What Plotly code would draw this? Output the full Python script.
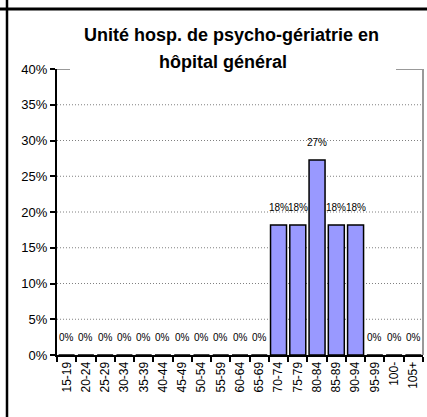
import plotly.graph_objects as go

categories = ["15-19", "20-24", "25-29", "30-34", "35-39", "40-44", "45-49", "50-54",
              "55-59", "60-64", "65-69", "70-74", "75-79", "80-84", "85-89", "90-94",
              "95-99", "100-", "105+"]
values = [0, 0, 0, 0, 0, 0, 0, 0, 0, 0, 0, 2/11, 2/11, 3/11, 2/11, 2/11, 0, 0, 0]
y_ticks = [0, 0.05, 0.10, 0.15, 0.20, 0.25, 0.30, 0.35, 0.40]
title_lines = ["Unité hosp. de psycho-gériatrie en", "hôpital général"]

W, H = 427, 417
L, R, T, B = 57, 4, 69, 62
pw, ph = W - L - R, H - T - B

def px(x):
    return (x - L) / pw

def py(y):
    return (H - B - y) / ph

fig = go.Figure()
fig.add_trace(go.Bar(
    x=categories, y=values,
    marker=dict(color="#9999FF", line=dict(color="black", width=1.5)),
    hoverinfo="skip",
))

annotations = []
for c, v in zip(categories, values):
    annotations.append(dict(
        x=c, y=v, xref="x", yref="y", text=f"{round(v*100)}%",
        showarrow=False, yanchor="middle", yshift=17.5,
        font=dict(family="Arial, Liberation Sans", size=10, color="black"),
    ))

annotations.append(dict(x=px(231), y=py(35), xref="paper", yref="paper",
                        text=f"<b>{title_lines[0]}</b>", showarrow=False,
                        xanchor="center", yanchor="middle",
                        font=dict(family="Arial, Liberation Sans", size=18, color="black")))
annotations.append(dict(x=px(223), y=py(62), xref="paper", yref="paper",
                        text=f"<b>{title_lines[1]}</b>", showarrow=False,
                        xanchor="center", yanchor="middle",
                        font=dict(family="Arial, Liberation Sans", size=18, color="black")))

shapes = []
for t in y_ticks[1:-1]:
    shapes.append(dict(type="line", xref="paper", yref="y", x0=0, x1=1, y0=t, y1=t,
                       line=dict(color="#808080", width=1, dash="1px,2px"), layer="below"))
# plot area border (gray), partially hidden by title
shapes.append(dict(type="line", xref="paper", yref="y", x0=0, x1=px(70), y0=0.4, y1=0.4,
                   line=dict(color="#999999", width=2)))
shapes.append(dict(type="line", xref="paper", yref="y", x0=px(396), x1=1, y0=0.4, y1=0.4,
                   line=dict(color="#999999", width=2)))
shapes.append(dict(type="line", xref="paper", yref="y", x0=1, x1=1, y0=0, y1=0.4,
                   line=dict(color="#999999", width=2)))
# outer frame lines
shapes.append(dict(type="line", xref="paper", yref="paper", x0=px(0), x1=px(W), y0=py(9), y1=py(9),
                   line=dict(color="black", width=3)))
shapes.append(dict(type="line", xref="paper", yref="paper", x0=px(7), x1=px(7), y0=py(0), y1=py(H),
                   line=dict(color="black", width=2.5)))

fig.update_layout(
    width=W, height=H,
    margin=dict(l=L, r=R, t=T, b=B, pad=0),
    paper_bgcolor="white", plot_bgcolor="white",
    showlegend=False, bargap=0.17,
    font=dict(family="Arial, Liberation Sans", color="black"),
    annotations=annotations, shapes=shapes,
    xaxis=dict(
        type="category", showgrid=False, showline=True, linecolor="black", linewidth=2,
        ticks="outside", ticklen=5, tickcolor="black", tickwidth=2,
        tickson="boundaries", tickangle=-90, tickfont=dict(size=12),
        range=[-0.5, len(categories) - 0.5], fixedrange=True, automargin=False,
    ),
    yaxis=dict(
        range=[0, 0.4], tickvals=y_ticks, tickformat=".0%", showgrid=False,
        showline=True, linecolor="black", linewidth=2, zeroline=False,
        ticks="outside", ticklen=5, tickcolor="black", tickwidth=2,
        tickfont=dict(size=13), fixedrange=True, automargin=False,
    ),
)

fig.write_html(
    "out.html",
    config={"displayModeBar": False},
    post_script="document.body.style.margin='0';document.body.style.overflow='hidden';",
)
